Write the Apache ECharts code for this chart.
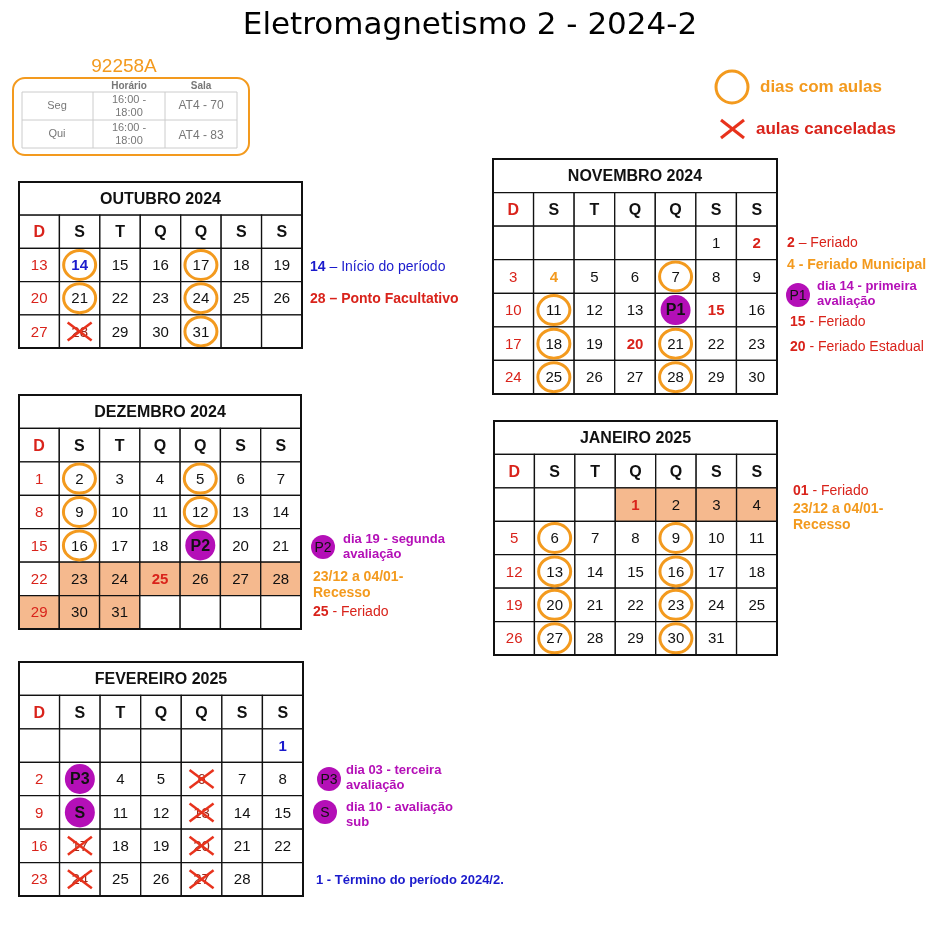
<!DOCTYPE html>
<html>
<head>
<meta charset="utf-8">
<script src="https://cdn.jsdelivr.net/npm/echarts@6/dist/echarts.min.js"></script>
<style>html,body{margin:0;padding:0;background:#fff}#main{width:940px;height:950px}</style>
</head>
<body>
<div id="main"></div>
<script>
// headers of the weekday columns
var weekDays = ['D', 'S', 'T', 'Q', 'Q', 'S', 'S'];

// each month: first day shown, weekday column of it, last day
var monthNames = ['OUTUBRO 2024', 'NOVEMBRO 2024', 'DEZEMBRO 2024', 'JANEIRO 2025', 'FEVEREIRO 2025'];
var firstDay = [13, 1, 1, 1, 1];
var firstCol = [0, 5, 0, 3, 6];
var lastDay = [31, 30, 31, 31, 28];

// days marks per month
var classDays = [[14, 17, 21, 24, 31], [7, 11, 18, 21, 25, 28], [2, 5, 9, 12, 16],
    [6, 9, 13, 16, 20, 23, 27, 30], []];
var cancelledDays = [[28], [], [], [], [6, 13, 17, 20, 24, 27]];
var recessDays = [[], [], [23, 24, 25, 26, 27, 28, 29, 30, 31], [1, 2, 3, 4], []];
var examDays = [{}, {14: 'P1'}, {19: 'P2'}, {}, {3: 'P3', 10: 'S'}];
var redBold = [[], [2, 15, 20], [25], [1], []];
var orangeBold = [[], [4], [], [], []];
var blueBold = [[14], [], [], [], [1]];

// layout of each table
var boxes = [
    {x: 19, y: 182, w: 283, h: 166},
    {x: 493, y: 159, w: 284, h: 235},
    {x: 19, y: 395, w: 282, h: 234},
    {x: 494, y: 421, w: 283, h: 234},
    {x: 19, y: 662, w: 284, h: 234}
];

var RED = '#d9231b', ORANGE = '#f39a1e', PURPLE = '#b40fb7', BLUE = '#1a1acc', RECESS = '#f5b98e';
var FONT = 'Liberation Sans';

function buildCells(m) {
    var cells = [];
    var nWeeks = Math.ceil((firstCol[m] + lastDay[m] - firstDay[m] + 1) / 7);
    cells.push({c: 3, r: 0, kind: 'title', text: monthNames[m], rows: nWeeks + 2});
    weekDays.forEach(function (d, i) { cells.push({c: i, r: 1, kind: 'head', text: d}); });
    for (var k = 0; k < nWeeks * 7; k++) {
        var day = firstDay[m] + k - firstCol[m];
        var cell = {c: k % 7, r: 2 + Math.floor(k / 7), kind: 'day', text: ''};
        if (day >= firstDay[m] && day <= lastDay[m]) {
            cell.text = String(day);
            cell.cls = classDays[m].indexOf(day) >= 0;
            cell.cancel = cancelledDays[m].indexOf(day) >= 0;
            cell.recess = recessDays[m].indexOf(day) >= 0;
            cell.exam = examDays[m][day];
            cell.color = k % 7 === 0 ? RED : '#111';
            if (redBold[m].indexOf(day) >= 0) { cell.color = RED; cell.bold = true; }
            if (orangeBold[m].indexOf(day) >= 0) { cell.color = ORANGE; cell.bold = true; }
            if (blueBold[m].indexOf(day) >= 0) { cell.color = BLUE; cell.bold = true; }
            if (cell.cancel) cell.color = '#9a2a1c';
        }
        cells.push(cell);
    }
    return {cells: cells, rows: nWeeks + 2};
}

var grids = [], xAxes = [], yAxes = [], series = [];
monthNames.forEach(function (name, m) {
    var b = buildCells(m), box = boxes[m];
    grids.push({left: box.x, top: box.y, width: box.w, height: box.h});
    xAxes.push({type: 'category', gridIndex: m, data: weekDays.map(function (d, i) { return i; }), show: false});
    var ys = [];
    for (var i = 0; i < b.rows; i++) ys.push(i);
    yAxes.push({type: 'category', gridIndex: m, data: ys, inverse: true, show: false});
    series.push({
        type: 'custom', xAxisIndex: m, yAxisIndex: m, clip: false, silent: true,
        data: b.cells.map(function (c) { return [c.c, c.r]; }),
        renderItem: (function (cells) {
            return function (params, api) {
                var cell = cells[params.dataIndex];
                var p = api.coord([api.value(0), api.value(1)]);
                var s = api.size([1, 1]);
                var ch = [];
                if (cell.kind === 'title') {
                    ch.push({type: 'rect', shape: {x: p[0] - 3.5 * s[0], y: p[1] - s[1] / 2, width: 7 * s[0], height: s[1]},
                        style: {fill: '#fff', stroke: '#111', lineWidth: 1.3}});
                    ch.push({type: 'text', x: p[0], y: p[1] + 1, style: {text: cell.text, fontFamily: FONT, fontSize: 16,
                        fontWeight: 'bold', fill: '#111', align: 'center', verticalAlign: 'middle'}});
                    ch.push({type: 'rect', z2: 50, shape: {x: p[0] - 3.5 * s[0], y: p[1] - s[1] / 2, width: 7 * s[0], height: cell.rows * s[1]},
                        style: {fill: null, stroke: '#111', lineWidth: 2}});
                    return {type: 'group', children: ch};
                }
                ch.push({type: 'rect', shape: {x: p[0] - s[0] / 2, y: p[1] - s[1] / 2, width: s[0], height: s[1]},
                    style: {fill: cell.recess ? RECESS : '#fff', stroke: '#111', lineWidth: 1.3}});
                if (cell.kind === 'head') {
                    ch.push({type: 'text', x: p[0], y: p[1] + 1, style: {text: cell.text, fontFamily: FONT, fontSize: 16,
                        fontWeight: 'bold', fill: cell.c === 0 ? RED : '#111', align: 'center', verticalAlign: 'middle'}});
                    return {type: 'group', children: ch};
                }
                if (cell.exam) {
                    ch.push({type: 'circle', z2: 5, shape: {cx: p[0], cy: p[1], r: 15}, style: {fill: PURPLE}});
                    ch.push({type: 'text', z2: 6, x: p[0], y: p[1] + 1, style: {text: cell.exam, fontFamily: FONT, fontSize: 16,
                        fontWeight: 'bold', fill: '#111', align: 'center', verticalAlign: 'middle'}});
                    return {type: 'group', children: ch};
                }
                ch.push({type: 'text', z2: 5, x: p[0], y: p[1] + 1, style: {text: cell.text, fontFamily: FONT, fontSize: 15,
                    fontWeight: cell.bold ? 'bold' : 'normal', fill: cell.color, align: 'center', verticalAlign: 'middle'}});
                if (cell.cls) {
                    ch.push({type: 'ellipse', z2: 6, shape: {cx: p[0], cy: p[1], rx: 16, ry: 14.5},
                        style: {fill: null, stroke: ORANGE, lineWidth: 3}});
                }
                if (cell.cancel) {
                    ch.push({type: 'line', z2: 6, shape: {x1: p[0] - 12, y1: p[1] - 9, x2: p[0] + 12, y2: p[1] + 9}, style: {stroke: '#e8321c', lineWidth: 2.5}});
                    ch.push({type: 'line', z2: 6, shape: {x1: p[0] - 12, y1: p[1] + 9, x2: p[0] + 12, y2: p[1] - 9}, style: {stroke: '#e8321c', lineWidth: 2.5}});
                }
                return {type: 'group', children: ch};
            };
        })(b.cells)
    });
});

function txt(x, y, text, rich, base) {
    return {type: 'text', x: x, y: y, style: Object.assign({text: text, rich: rich || {}, fontFamily: FONT, fontSize: 14,
        verticalAlign: 'middle'}, base || {})};
}
function disk(x, y, label) {
    return {type: 'group', children: [
        {type: 'circle', shape: {cx: x, cy: y, r: 12}, style: {fill: PURPLE}},
        {type: 'text', x: x, y: y + 1, style: {text: label, fontFamily: FONT, fontSize: 14, fill: '#111', align: 'center', verticalAlign: 'middle'}}
    ]};
}
var purpleText = {fill: PURPLE, fontWeight: 'bold', fontSize: 13, lineHeight: 15};
var orangeText = {fill: ORANGE, fontWeight: 'bold', fontSize: 14, lineHeight: 16};

var graphics = [
    txt(470, 26, 'Eletromagnetismo 2 - 2024-2', null, {fontFamily: 'DejaVu Sans', fontSize: 31, align: 'center', fill: '#000'}),
    // info box
    txt(124, 67, '92258A', null, {fontSize: 19, fill: ORANGE, align: 'center'}),
    {type: 'rect', shape: {x: 13, y: 78, width: 236, height: 77, r: 12}, style: {fill: null, stroke: ORANGE, lineWidth: 2}},
    {type: 'rect', shape: {x: 22, y: 92, width: 215, height: 56}, style: {fill: null, stroke: '#ccc', lineWidth: 1}},
    {type: 'line', shape: {x1: 22, y1: 120, x2: 237, y2: 120}, style: {stroke: '#ccc'}},
    {type: 'line', shape: {x1: 93, y1: 92, x2: 93, y2: 148}, style: {stroke: '#ccc'}},
    {type: 'line', shape: {x1: 165, y1: 92, x2: 165, y2: 148}, style: {stroke: '#ccc'}},
    txt(129, 86, 'Horário', null, {fontSize: 10, fontWeight: 'bold', fill: '#777', align: 'center'}),
    txt(201, 86, 'Sala', null, {fontSize: 10, fontWeight: 'bold', fill: '#777', align: 'center'}),
    txt(57, 106, 'Seg', null, {fontSize: 11, fill: '#777', align: 'center'}),
    txt(57, 134, 'Qui', null, {fontSize: 11, fill: '#777', align: 'center'}),
    txt(129, 106, '16:00 -\n18:00', null, {fontSize: 11, fill: '#777', align: 'center', lineHeight: 13}),
    txt(129, 134, '16:00 -\n18:00', null, {fontSize: 11, fill: '#777', align: 'center', lineHeight: 13}),
    txt(201, 106, 'AT4 - 70', null, {fontSize: 12, fill: '#777', align: 'center'}),
    txt(201, 136, 'AT4 - 83', null, {fontSize: 12, fill: '#777', align: 'center'}),
    // legend
    {type: 'circle', shape: {cx: 732, cy: 87, r: 16}, style: {fill: null, stroke: ORANGE, lineWidth: 3}},
    txt(760, 87, 'dias com aulas', null, {fontSize: 17, fontWeight: 'bold', fill: ORANGE}),
    {type: 'line', shape: {x1: 721, y1: 120, x2: 744, y2: 138}, style: {stroke: '#e8321c', lineWidth: 3}},
    {type: 'line', shape: {x1: 721, y1: 138, x2: 744, y2: 120}, style: {stroke: '#e8321c', lineWidth: 3}},
    txt(756, 129, 'aulas canceladas', null, {fontSize: 17, fontWeight: 'bold', fill: RED}),
    // outubro notes
    txt(310, 267, '{b|14} – Início do período', {b: {fontWeight: 'bold', fill: BLUE, fontSize: 14}}, {fill: BLUE, fontSize: 14}),
    txt(310, 299, '28 – Ponto Facultativo', null, {fill: RED, fontWeight: 'bold'}),
    // novembro notes
    txt(787, 243, '{b|2} – Feriado', {b: {fontWeight: 'bold', fill: RED, fontSize: 14}}, {fill: RED}),
    txt(787, 265, '4 - Feriado Municipal', null, {fill: ORANGE, fontWeight: 'bold'}),
    disk(798, 295, 'P1'),
    txt(817, 294, 'dia 14 - primeira\navaliação', null, purpleText),
    txt(790, 322, '{b|15} - Feriado', {b: {fontWeight: 'bold', fill: RED, fontSize: 14}}, {fill: RED}),
    txt(790, 347, '{b|20} - Feriado Estadual', {b: {fontWeight: 'bold', fill: RED, fontSize: 14}}, {fill: RED}),
    // dezembro notes
    disk(323, 547, 'P2'),
    txt(343, 547, 'dia 19 - segunda\navaliação', null, purpleText),
    txt(313, 585, '23/12 a 04/01-\nRecesso', null, orangeText),
    txt(313, 612, '{b|25} - Feriado', {b: {fontWeight: 'bold', fill: RED, fontSize: 14}}, {fill: RED}),
    // janeiro notes
    txt(793, 491, '{b|01} - Feriado', {b: {fontWeight: 'bold', fill: RED, fontSize: 14}}, {fill: RED}),
    txt(793, 517, '23/12 a 04/01-\nRecesso', null, orangeText),
    // fevereiro notes
    disk(329, 779, 'P3'),
    txt(346, 778, 'dia 03 - terceira\navaliação', null, purpleText),
    disk(325, 812, 'S'),
    txt(346, 815, 'dia 10 - avaliação\nsub', null, purpleText),
    txt(316, 880, '1 - Término do período 2024/2.', null, {fill: BLUE, fontWeight: 'bold', fontSize: 13})
];

var myChart = echarts.init(document.getElementById('main'));
myChart.setOption({
    animation: false,
    backgroundColor: '#fff',
    grid: grids,
    xAxis: xAxes,
    yAxis: yAxes,
    series: series,
    graphic: graphics
});
</script>
</body>
</html>
